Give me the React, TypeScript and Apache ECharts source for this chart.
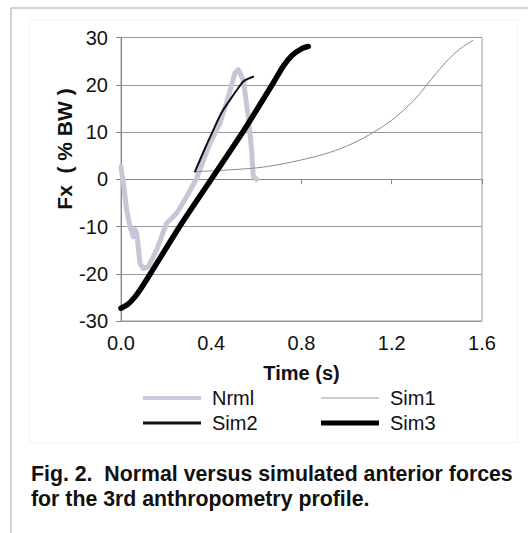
import React, { useEffect, useRef } from "react";
import * as echarts from "echarts";

const xTicks = [0, 0.4, 0.8, 1.2, 1.6];
const yTicks = [-30, -20, -10, 0, 10, 20, 30];

const nrmlT = [0, 0.003, 0.01, 0.025, 0.04, 0.055, 0.062, 0.07, 0.084, 0.099, 0.121, 0.158, 0.202, 0.247, 0.291, 0.336, 0.394, 0.439, 0.476, 0.505, 0.52, 0.542, 0.564, 0.579, 0.586, 0.601];
const nrmlV = [2.7, 1.5, -0.5, -6.5, -10, -12.2, -10.7, -11.4, -17.8, -18.9, -18.5, -15, -9.3, -7.2, -3.7, 0.3, 7.6, 11.9, 17.5, 22.5, 23.2, 21, 13.3, 6.2, 0.6, 0];

const sim1T = [0.33, 0.45, 0.6, 0.7, 0.8, 0.9, 1.0, 1.1, 1.2, 1.3, 1.4, 1.45, 1.5, 1.56];
const sim1V = [1.6, 1.9, 2.4, 3.1, 4.1, 5.3, 7.0, 9.4, 12.5, 16.8, 22.6, 25.3, 27.5, 29.4];

const sim2T = [0.328, 0.37, 0.409, 0.445, 0.483, 0.515, 0.542, 0.565, 0.586];
const sim2V = [1.6, 6.3, 10.4, 14.0, 16.8, 19.0, 20.7, 21.3, 21.7];

const sim3T = [0, 0.03, 0.06, 0.09, 0.13, 0.26, 0.4, 0.54, 0.67, 0.72, 0.76, 0.8, 0.83];
const sim3V = [-27.3, -26.5, -25, -23, -20, -10, 0, 10, 20, 24, 26.3, 27.6, 28.1];

const seriesNames = ["Nrml", "Sim1", "Sim2", "Sim3"];
const captionLines = [
  "Fig. 2.  Normal versus simulated anterior forces",
  "for the 3rd anthropometry profile.",
];
const xTitle = "Time (s)";
const yTitle = "Fx  ( % BW )";

const FONT = 'Arial, "Liberation Sans", Helvetica, sans-serif';

const zip = (t: number[], v: number[]) => t.map((x, i) => [x, v[i]]);

export default function App() {
  const ref = useRef<HTMLDivElement>(null);
  useEffect(() => {
    if (!ref.current) return;
    const chart = echarts.init(ref.current, undefined, { renderer: "svg" });
    const styles = [
      { color: "#c9c5d6", width: 5, smooth: false },
      { color: "#8a8a8a", width: 1, smooth: 0.3 },
      { color: "#111111", width: 2, smooth: 0.3 },
      { color: "#000000", width: 5.5, smooth: 0.2 },
    ];
    const datas = [zip(nrmlT, nrmlV), zip(sim1T, sim1V), zip(sim2T, sim2V), zip(sim3T, sim3V)];
    const legendPos = [
      { left: 143, top: 388 },
      { left: 321, top: 388 },
      { left: 143, top: 413 },
      { left: 321, top: 413 },
    ];
    const legendIcon = [
      { color: "#cdc9da", width: 4 },
      { color: "#cdcada", width: 2 },
      { color: "#111111", width: 3 },
      { color: "#000000", width: 5 },
    ];
    const option: any = {
      animation: false,
      backgroundColor: "#ffffff",
      title: {
        text: captionLines.join("\n"),
        left: 31,
        top: 461,
        padding: 0,
        textStyle: {
          fontFamily: FONT,
          fontWeight: "bold",
          fontSize: 21.3,
          lineHeight: 25,
          color: "#111",
        },
      },
      grid: {
        left: 121,
        right: 46,
        top: 37.5,
        bottom: 212,
        show: true,
        borderColor: "#9a9a9a",
        borderWidth: 1,
      },
      xAxis: {
        type: "value",
        min: xTicks[0],
        max: xTicks[xTicks.length - 1],
        interval: 0.4,
        name: xTitle,
        nameLocation: "middle",
        nameGap: 42,
        nameTextStyle: { fontFamily: FONT, fontWeight: "bold", fontSize: 20, color: "#111" },
        axisLine: { show: true, lineStyle: { color: "#888", width: 1 } },
        axisTick: { show: true, length: 5, lineStyle: { color: "#888" } },
        splitLine: { show: false },
        axisLabel: {
          margin: 12,
          fontFamily: FONT,
          fontSize: 20,
          color: "#111",
          formatter: (v: number) => v.toFixed(1),
        },
      },
      yAxis: {
        type: "value",
        min: yTicks[0],
        max: yTicks[yTicks.length - 1],
        interval: 10,
        axisLine: { show: true, lineStyle: { color: "#888", width: 1 } },
        axisTick: { show: true, length: 5, lineStyle: { color: "#888" } },
        splitLine: { show: true, lineStyle: { color: "#999", width: 1 } },
        axisLabel: { margin: 13, fontFamily: FONT, fontSize: 20, color: "#111" },
      },
      legend: seriesNames.map((n, i) => ({
        data: [{ name: n, icon: "rect", itemStyle: { color: legendIcon[i].color, borderWidth: 0 } }],
        left: legendPos[i].left,
        top: legendPos[i].top,
        padding: 0,
        itemWidth: 58,
        itemHeight: legendIcon[i].width,
        textStyle: {
          fontFamily: FONT,
          fontSize: 20,
          lineHeight: 20,
          color: "#111",
          padding: [0, 0, 0, 6],
        },
      })),
      graphic: [
        {
          type: "line",
          shape: { x1: 11, y1: 8, x2: 528, y2: 8 },
          style: { stroke: "#c4c4c4", lineWidth: 1.5 },
        },
        {
          type: "line",
          shape: { x1: 11, y1: 8, x2: 11, y2: 533 },
          style: { stroke: "#c4c4c4", lineWidth: 1.5 },
        },
        {
          type: "rect",
          shape: { x: 30, y: 20, width: 488, height: 423 },
          style: { fill: "none", stroke: "#f2f2f2", lineWidth: 1 },
        },
        {
          type: "text",
          x: 64,
          y: 149,
          rotation: Math.PI / 2,
          style: {
            text: yTitle,
            fontFamily: FONT,
            fontWeight: "bold",
            fontSize: 21,
            fill: "#111",
            align: "center",
            verticalAlign: "middle",
          },
        },
      ],
      series: seriesNames.map((n, i) => ({
        name: n,
        type: "line",
        data: datas[i],
        showSymbol: false,
        symbol: "none",
        smooth: styles[i].smooth,
        lineStyle: { color: styles[i].color, width: styles[i].width, cap: "round", join: "round" },
        itemStyle: { color: styles[i].color },
        z: i === 0 ? 1 : 2 + i,
      })),
    };
    chart.setOption(option);
    return () => chart.dispose();
  }, []);
  return (
    <div
      ref={ref}
      style={{ position: "absolute", left: 0, top: 0, width: 528, height: 533 }}
    />
  );
}
